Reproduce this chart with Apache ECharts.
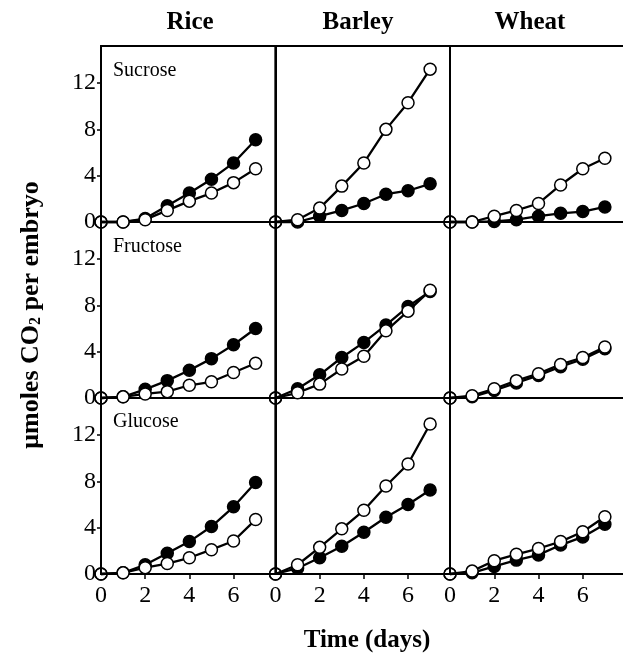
<!DOCTYPE html>
<html>
<head>
<meta charset="utf-8">
<script src="https://cdn.jsdelivr.net/npm/echarts@6/dist/echarts.min.js"></script>
<style>html,body{margin:0;padding:0;background:#fff}#c{width:623px;height:657px}</style>
</head>
<body>
<div id="c"></div>
<script>
// ---- data ----
var days = [0, 1, 2, 3, 4, 5, 6, 7];
var grains = ['Rice', 'Barley', 'Wheat'];
var sugars = ['Sucrose', 'Fructose', 'Glucose'];
var yTicks = [0, 4, 8, 12];
var xTicks = [0, 2, 4, 6];

// filled circles
var riceSucroseFilled   = [0, 0, 0.3, 1.4, 2.5, 3.7, 5.1, 7.1];
var barleySucroseFilled = [0, 0, 0.5, 1.0, 1.6, 2.4, 2.7, 3.3];
var wheatSucroseFilled  = [0, 0, 0.05, 0.2, 0.5, 0.75, 0.9, 1.3];
var riceFructoseFilled   = [0, 0.1, 0.75, 1.5, 2.4, 3.4, 4.6, 6.0];
var barleyFructoseFilled = [0, 0.8, 2.0, 3.5, 4.8, 6.3, 7.9, 9.2];
var wheatFructoseFilled  = [0, 0.1, 0.65, 1.3, 1.95, 2.7, 3.35, 4.25];
var riceGlucoseFilled   = [0, 0.1, 0.8, 1.8, 2.8, 4.1, 5.8, 7.9];
var barleyGlucoseFilled = [0, 0.5, 1.4, 2.4, 3.6, 4.9, 6.0, 7.25];
var wheatGlucoseFilled  = [0, 0.1, 0.65, 1.2, 1.65, 2.5, 3.2, 4.3];

// open circles
var riceSucroseOpen   = [0, 0, 0.2, 1.0, 1.8, 2.5, 3.4, 4.6];
var barleySucroseOpen = [0, 0.2, 1.2, 3.1, 5.1, 8.0, 10.3, 13.2];
var wheatSucroseOpen  = [0, 0, 0.5, 1.0, 1.6, 3.2, 4.6, 5.5];
var riceFructoseOpen   = [0, 0.1, 0.35, 0.55, 1.1, 1.4, 2.2, 3.0];
var barleyFructoseOpen = [0, 0.45, 1.2, 2.5, 3.6, 5.8, 7.5, 9.3];
var wheatFructoseOpen  = [0, 0.2, 0.8, 1.5, 2.1, 2.9, 3.5, 4.4];
var riceGlucoseOpen   = [0, 0.1, 0.55, 0.9, 1.4, 2.1, 2.85, 4.7];
var barleyGlucoseOpen = [0, 0.8, 2.3, 3.9, 5.5, 7.6, 9.5, 12.95];
var wheatGlucoseOpen  = [0, 0.25, 1.15, 1.7, 2.2, 2.8, 3.65, 4.95];

var filledSets = [
  [riceSucroseFilled, barleySucroseFilled, wheatSucroseFilled],
  [riceFructoseFilled, barleyFructoseFilled, wheatFructoseFilled],
  [riceGlucoseFilled, barleyGlucoseFilled, wheatGlucoseFilled]
];
var openSets = [
  [riceSucroseOpen, barleySucroseOpen, wheatSucroseOpen],
  [riceFructoseOpen, barleyFructoseOpen, wheatFructoseOpen],
  [riceGlucoseOpen, barleyGlucoseOpen, wheatGlucoseOpen]
];

// ---- layout ----
var serif = '"Liberation Serif", "Times New Roman", serif';
var lefts = [101, 275.5, 450];
var widths = [174.5, 174.5, 177];
var xMaxes = [7.9, 7.9, 8.0];
var tops = [46, 222, 398];
var H = 176;
var titleX = [190, 358, 530];

var grids = [], xAxes = [], yAxes = [], series = [];
function mk(vals) {
  return days.map(function (d, i) {
    if (i === 0) return { value: [d, vals[i]], itemStyle: { color: 'rgba(0,0,0,0)', borderColor: '#000', borderWidth: 1.5 } };
    return [d, vals[i]];
  });
}
var idx = 0;
for (var r = 0; r < 3; r++) {
  for (var c = 0; c < 3; c++) {
    grids.push({ left: lefts[c], top: tops[r], width: widths[c], height: H, show: true, borderColor: '#000', borderWidth: 1.8, outerBoundsMode: 'none', containLabel: false });
    var bottomRow = r === 2, firstCol = c === 0;
    xAxes.push({
      gridIndex: idx, type: 'value', min: 0, max: xMaxes[c],
      axisLine: { show: true, onZero: false, lineStyle: { color: '#000', width: 2 } },
      axisTick: { show: bottomRow, inside: false, length: 5, lineStyle: { color: '#000', width: 1.5 }, customValues: [2, 4, 6] },
      axisLabel: { show: bottomRow, customValues: xTicks, margin: 10, color: '#000', fontFamily: serif, fontSize: 24 },
      splitLine: { show: false }
    });
    yAxes.push({
      gridIndex: idx, type: 'value', min: 0, max: 15.2,
      axisLine: { show: true, onZero: false, lineStyle: { color: '#000', width: 2 } },
      axisTick: { show: firstCol, inside: false, length: 4, lineStyle: { color: '#000', width: 1.5 }, customValues: [4, 8, 12] },
      axisLabel: { show: firstCol, customValues: yTicks, margin: 5, color: '#000', fontFamily: serif, fontSize: 24 },
      splitLine: { show: false }
    });
    series.push({
      type: 'line', xAxisIndex: idx, yAxisIndex: idx, data: mk(filledSets[r][c]),
      symbol: 'circle', symbolSize: 12, clip: false, z: 3,
      lineStyle: { color: '#000', width: 2.3 },
      itemStyle: { color: '#000', borderColor: '#000', borderWidth: 1.5 }
    });
    series.push({
      type: 'line', xAxisIndex: idx, yAxisIndex: idx, data: mk(openSets[r][c]),
      symbol: 'circle', symbolSize: 12, clip: false, z: 4,
      lineStyle: { color: '#000', width: 2.3 },
      itemStyle: { color: '#fff', borderColor: '#000', borderWidth: 1.5 }
    });
    idx++;
  }
}

var graphics = [];
grains.forEach(function (g, i) {
  graphics.push({ type: 'text', x: titleX[i], y: 23, style: { text: g, fill: '#000', font: 'bold 25px ' + serif, textAlign: 'center', textVerticalAlign: 'middle' } });
});
var rowLabelY = [71, 247, 422];
sugars.forEach(function (s, i) {
  graphics.push({ type: 'text', x: 113, y: rowLabelY[i], style: { text: s, fill: '#000', font: '20px ' + serif, textAlign: 'left', textVerticalAlign: 'middle' } });
});
graphics.push({
  type: 'text', x: 31, y: 315, rotation: Math.PI / 2,
  style: {
    text: '{a|μmoles CO}{s|2}{a| per embryo}', textAlign: 'center', textVerticalAlign: 'middle', fill: '#000',
    rich: {
      a: { fontFamily: serif, fontWeight: 'bold', fontSize: 26, fill: '#000', color: '#000' },
      s: { fontFamily: serif, fontWeight: 'bold', fontSize: 16, fill: '#000', color: '#000', verticalAlign: 'bottom', padding: [10, 0, 0, 0] }
    }
  }
});
graphics.push({ type: 'text', x: 367, y: 641, style: { text: 'Time (days)', fill: '#000', font: 'bold 25px ' + serif, textAlign: 'center', textVerticalAlign: 'middle' } });

var chart = echarts.init(document.getElementById('c'), null, { renderer: 'canvas' });
chart.setOption({
  animation: false,
  backgroundColor: '#fff',
  grid: grids, xAxis: xAxes, yAxis: yAxes, series: series,
  graphic: graphics
});
</script>
</body>
</html>
